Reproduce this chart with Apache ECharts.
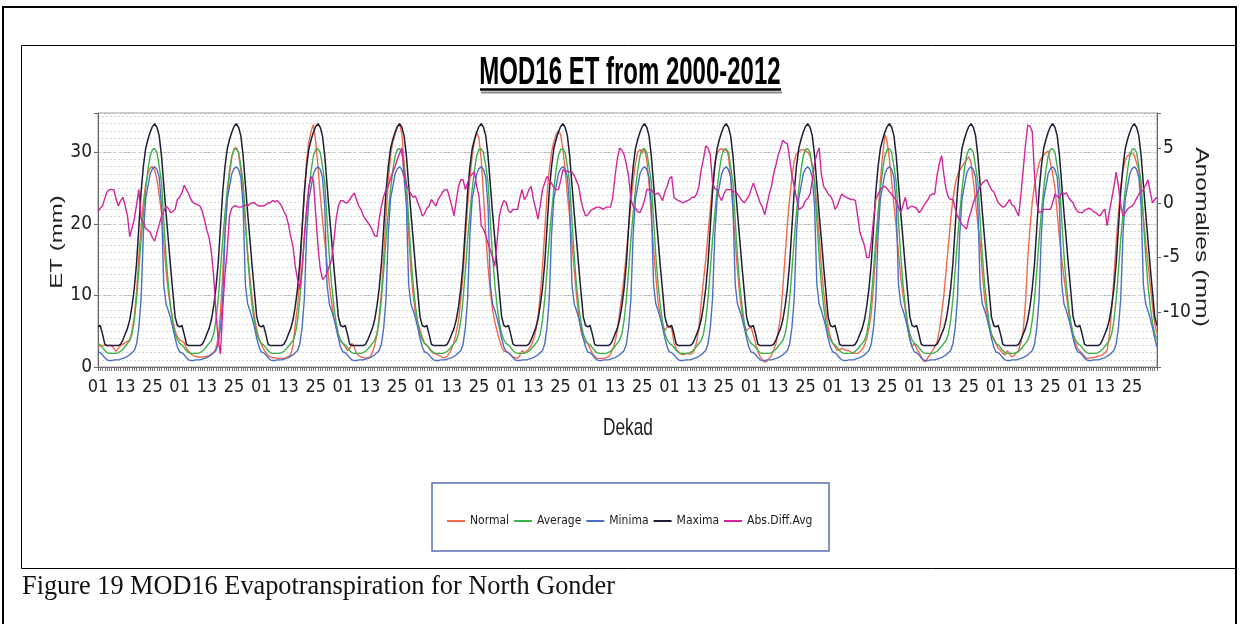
<!DOCTYPE html>
<html><head><meta charset="utf-8">
<script src="https://cdn.jsdelivr.net/npm/echarts@6/dist/echarts.min.js"></script>
<style>html,body{margin:0;padding:0;background:#fff}#c{width:1240px;height:624px}</style>
</head><body><div id="c"></div>
<script>
// ---------- DATA ----------
const years = ['2000','2001','2002','2003','2004','2005','2006','2007','2008','2009','2010','2011','2012'];
const dekads = ['01','02','03','04','05','06','07','08','09','10','11','12','13','14','15','16','17','18',
                '19','20','21','22','23','24','25','26','27','28','29','30','31','32','33','34','35','36'];
// long-term dekadal statistics (repeat every year)
const averageCycle = [3.3,3.1,2.7,2.3,2.0,1.9,1.9,1.9,1.9,2.0,2.2,2.5,2.9,3.3,3.7,4.6,6.5,9.5,13.5,17.8,21.5,24.8,27.5,29.5,30.4,30.5,30.0,28.0,25.8,20.5,15.5,11.5,8.5,6.2,4.6,3.8];
const minimaCycle  = [2.1,2.0,1.7,1.3,1.0,0.9,0.9,1.0,1.0,1.0,1.1,1.2,1.3,1.5,1.7,2.0,2.3,3.2,5.5,9.5,18.5,23.5,25.2,27.0,27.7,28.0,27.6,26.5,22.5,11.5,8.8,7.9,6.8,5.5,4.0,2.8];
const maximaCycle  = [5.6,5.8,4.6,3.2,3.0,3.0,3.0,3.0,3.0,3.0,3.2,3.8,4.6,5.4,6.6,8.5,11.0,14.5,19.5,24.5,28.0,30.5,31.8,32.8,33.6,34.0,33.5,32.3,29.5,25.5,21.5,17.8,14.0,10.5,7.0,5.8];
// yearly dekadal ET ("Normal"), one row per year
const normalByYear = [
 [2.8,3.0,3.0,3.0,3.0,3.0,3.0,2.6,2.2,2.6,3.0,3.2,3.4,3.6,3.8,5.0,7.0,10.5,15.5,19.5,23.0,25.5,27.0,27.8,28.0,27.5,26.2,24.0,21.5,17.5,13.5,10.5,8.3,6.5,5.1,4.2],
 [3.8,3.6,3.4,2.6,2.2,1.8,1.6,1.5,1.4,1.4,1.4,1.4,1.5,1.6,1.8,2.0,2.6,4.0,7.5,13.0,19.0,23.5,27.0,29.3,30.5,30.7,29.8,27.5,24.5,20.0,16.0,12.5,9.5,7.0,5.2,4.0],
 [3.2,2.5,2.0,1.6,1.4,1.3,1.3,1.2,1.2,1.2,1.2,1.3,1.5,1.7,3.0,6.0,8.5,13.0,19.0,24.0,29.0,31.5,33.0,33.9,31.5,28.0,24.0,20.5,17.5,14.5,11.5,9.0,7.0,5.5,4.2,3.6],
 [3.3,2.8,2.3,2.6,3.3,2.8,1.9,1.6,1.4,1.3,1.2,1.3,1.4,2.0,3.0,4.5,7.0,10.5,15.5,21.0,26.0,29.5,31.5,32.5,33.5,34.0,32.5,28.5,24.0,18.5,13.5,10.0,7.5,6.2,5.2,4.2],
 [3.3,3.0,2.6,2.2,1.9,1.8,1.7,1.5,1.3,1.3,1.5,2.0,2.6,3.5,4.8,6.5,9.5,13.0,18.0,22.5,26.5,29.5,31.5,32.8,32.0,29.0,24.0,18.5,14.0,10.5,8.0,6.3,5.0,3.8,2.8,2.2],
 [2.2,2.0,1.7,1.4,1.3,1.2,1.6,2.3,2.0,2.2,2.5,3.0,3.8,5.0,7.0,10.0,14.0,19.0,24.0,27.5,30.0,31.5,32.5,33.0,32.5,30.5,27.5,24.0,21.0,17.5,13.5,10.0,7.0,5.0,4.0,3.4],
 [3.3,2.6,1.9,1.5,1.2,1.2,1.2,1.2,1.3,1.4,1.8,2.5,3.5,5.0,7.5,10.0,12.5,16.0,19.5,23.0,26.0,28.5,30.0,30.4,29.9,30.5,29.0,25.5,21.0,16.5,12.6,9.0,7.0,5.8,5.1,5.6],
 [5.6,5.4,3.3,2.5,2.1,1.8,1.7,1.8,1.9,1.8,1.9,2.4,3.5,5.5,9.0,12.0,15.0,18.5,22.0,25.5,28.5,29.8,30.4,30.5,30.2,30.5,29.5,26.5,22.0,17.5,13.5,10.0,7.5,5.8,5.1,5.4],
 [5.6,4.5,3.3,2.2,1.4,1.0,0.7,0.8,1.2,1.6,2.4,3.3,5.0,7.0,11.0,15.5,20.0,23.5,26.5,28.8,29.8,30.1,30.3,30.4,30.2,30.0,29.5,28.0,26.0,22.5,18.5,14.0,10.5,7.8,5.5,4.2],
 [3.3,2.8,2.3,2.4,2.6,2.5,2.3,2.3,2.1,1.9,1.9,1.9,2.1,2.5,3.0,4.0,5.5,7.5,11.5,16.0,21.0,26.0,29.5,32.5,31.5,29.0,26.0,22.5,19.5,16.0,12.5,10.0,8.0,5.5,3.8,2.8],
 [3.3,2.6,2.0,1.5,0.8,0.8,1.3,1.8,2.3,2.8,3.5,5.0,7.5,10.0,13.5,17.0,20.5,23.5,25.5,26.8,27.5,28.0,28.5,29.0,29.4,28.5,26.0,23.0,20.0,17.5,13.0,9.5,7.5,5.6,4.6,4.0],
 [3.3,2.6,2.3,1.9,1.7,2.3,1.8,1.4,1.6,2.0,2.3,3.5,5.0,9.0,15.0,19.5,23.0,25.5,27.0,28.5,29.2,29.6,29.9,30.2,28.5,27.0,25.0,21.5,18.0,15.0,12.5,10.0,7.8,6.0,4.5,3.4],
 [2.6,2.2,1.9,1.5,1.2,1.2,1.3,1.3,1.4,1.5,1.6,1.7,2.0,2.3,4.5,8.0,12.5,17.3,21.5,25.2,27.5,29.0,29.5,29.8,29.9,29.6,28.5,27.5,24.3,21.0,17.5,14.5,11.5,8.5,6.0,4.7]
];
// anomalies (Abs.Diff.Avg, right axis), one row per year
const anomalyByYear = [
 [-0.8,-0.5,-0.3,0.4,1.0,1.2,1.2,1.2,0.3,-0.3,0.2,0.5,-0.3,-1.2,-3.1,-2.3,-1.5,-0.2,1.2,-1.5,-1.8,-2.3,-2.5,-2.7,-3.2,-3.5,-2.7,-2.0,-1.2,-0.8,-0.3,-0.5,-0.9,-0.8,-0.6,0.3],
 [0.5,0.9,1.6,1.2,0.8,0.3,0.0,-0.1,-0.2,-0.3,-0.8,-1.6,-2.5,-3.2,-4.5,-6.7,-10.0,-12.5,-13.8,-9.7,-6.5,-4.3,-1.2,-0.5,-0.3,-0.3,-0.4,-0.4,-0.3,-0.2,-0.3,-0.1,0.0,0.0,-0.2,-0.3],
 [-0.3,-0.3,-0.2,0.0,0.0,0.2,0.1,0.2,0.0,-0.3,-0.8,-1.2,-2.0,-3.1,-4.0,-5.8,-7.0,-7.9,-6.0,-3.0,-0.5,1.5,2.4,2.0,-1.0,-4.0,-6.0,-7.0,-6.8,-6.4,-5.8,-5.2,-3.5,-1.5,-0.3,0.2],
 [0.2,0.0,0.0,0.3,0.6,0.9,0.3,-0.3,-0.6,-1.2,-1.5,-1.8,-2.1,-2.5,-3.0,-3.1,-1.5,-0.3,0.6,1.2,1.5,2.2,2.8,3.3,4.0,4.5,5.0,2.5,1.6,1.2,0.8,0.5,0.6,0.0,-0.5,-1.2],
 [-1.0,-0.5,-0.3,0.3,0.0,-0.3,0.3,0.6,1.0,1.2,1.2,0.5,-0.3,-1.2,0.2,1.5,2.1,2.1,1.2,1.8,2.4,2.6,2.8,1.5,0.6,-2.1,-2.4,-3.0,-3.7,-4.3,-5.0,-5.8,-3.5,-1.2,-0.3,0.2],
 [0.0,-0.7,-0.9,-0.6,-0.6,-0.6,0.4,1.2,0.3,0.6,1.2,1.5,0.3,-0.5,-1.5,-0.3,1.2,1.8,2.4,2.1,1.8,1.4,1.2,1.2,2.0,3.0,2.9,2.9,2.8,2.8,2.5,2.0,1.5,0.2,-0.6,-1.2],
 [-1.1,-0.8,-0.6,-0.5,-0.4,-0.4,-0.5,-0.6,-0.4,-0.4,-0.4,0.5,2.4,4.0,5.0,4.8,4.4,3.5,2.4,0.3,-0.3,-0.5,-0.8,-0.9,-0.4,0.2,1.2,1.2,1.2,0.9,0.8,0.9,0.6,0.2,1.0,1.5],
 [2.2,2.4,0.5,0.3,0.2,0.1,0.0,0.1,0.2,0.3,0.5,0.5,0.8,1.5,3.0,4.0,5.2,5.0,4.4,1.8,1.3,1.2,0.6,0.2,0.8,1.2,1.2,1.2,1.0,1.0,0.8,0.5,0.2,0.0,0.3,0.6],
 [1.2,1.8,1.2,0.6,0.0,-0.4,-1.1,-0.2,0.8,1.5,2.7,3.5,4.4,5.0,5.7,5.5,5.4,4.0,2.5,1.5,0.5,-0.6,-0.5,-0.3,0.2,0.4,0.8,2.0,3.6,4.5,5.0,2.6,1.5,1.2,0.8,0.6],
 [0.2,-0.6,-0.3,0.3,0.8,0.6,0.5,0.4,0.3,0.3,0.2,-1.2,-2.7,-3.3,-3.9,-5.0,-5.0,-3.6,-1.5,0.3,0.8,1.2,1.4,1.5,1.3,1.0,0.8,0.5,0.2,-0.4,-0.9,-0.2,0.5,-0.6,-0.4,-0.3],
 [-0.4,-0.5,-0.9,-0.7,-0.3,0.0,0.3,0.7,0.8,0.8,2.5,3.6,4.3,2.6,1.2,0.5,0.3,0.3,-0.5,-1.2,-1.6,-2.0,-2.2,-2.4,-1.4,-0.8,0.0,0.5,1.0,1.5,1.8,2.0,2.1,1.6,1.2,1.0],
 [0.5,0.0,-0.2,-0.4,-0.3,0.0,0.3,-0.2,-0.3,-0.8,-1.2,0.8,3.0,5.3,7.1,7.0,6.5,2.4,0.0,-0.9,-0.8,-0.6,-0.6,-0.6,-0.6,0.0,0.8,0.6,0.4,1.0,0.8,0.9,0.5,0.2,0.0,-0.5],
 [-0.8,-0.9,-0.9,-0.7,-0.6,-0.5,-0.6,-0.8,-0.9,-1.1,-1.2,-0.8,-0.6,-2.1,-0.8,0.3,1.5,2.8,1.5,-0.2,-1.2,-0.9,-0.6,-0.4,-0.3,0.0,0.4,0.8,1.0,1.2,1.6,2.1,1.0,0.0,0.3,0.5]
];
const leftTicks = [0, 10, 20, 30];
const rightTicks = [5, 0, -5, -10];
const seriesNames = ['Normal', 'Average', 'Minima', 'Maxima', 'Abs.Diff.Avg'];

// ---------- build series ----------
const categories = [], normal = [], average = [], minima = [], maxima = [], anomaly = [];
years.forEach((y, yi) => {
  dekads.forEach((d, di) => {
    categories.push(y + '-' + d);
    normal.push(normalByYear[yi][di]);
    average.push(averageCycle[di]);
    minima.push(minimaCycle[di]);
    maxima.push(maximaCycle[di]);
    anomaly.push(anomalyByYear[yi][di]);
  });
});

const NARROW = "'DejaVu Sans Condensed','Liberation Sans Narrow',sans-serif";
const colors = ['#f26a4e', '#3cb14a', '#4b6ec6', '#1e1e36', '#d3259b'];

const chart = echarts.init(document.getElementById('c'), null, {renderer: 'canvas'});
const lineS = (name, data, idx, yAxisIndex, w) => ({
  name, type: 'line', data, yAxisIndex: yAxisIndex, showSymbol: false, symbol: 'none',
  lineStyle: {color: colors[idx], width: w}, itemStyle: {color: colors[idx]},
  emphasis: {disabled: true}, animation: false
});

chart.setOption({
  animation: false,
  color: colors,
  grid: {left: 98, right: 83, top: 113, bottom: 257, show: true, borderColor: '#9a9a9a', borderWidth: 1, backgroundColor: '#fff'},
  legend: {
    left: 442, top: 510, icon: 'rect', itemWidth: 18, itemHeight: 2, itemGap: 5,
    data: seriesNames,
    textStyle: {fontFamily: NARROW, fontSize: 12, color: '#1a1a1a'}
  },
  xAxis: {
    type: 'category', data: categories, boundaryGap: false,
    axisLine: {show: true, lineStyle: {color: '#666', width: 1}},
    axisTick: {show: true, interval: 0, length: 4, lineStyle: {color: '#777'}},
    axisLabel: {interval: 11, formatter: v => v.slice(-2), fontFamily: NARROW, fontSize: 18, color: '#222', margin: 11},
    splitLine: {show: false}
  },
  yAxis: [
    {
      type: 'value', min: 0, max: 35.5, interval: 10, position: 'left',
      axisLine: {show: true, lineStyle: {color: '#666'}},
      axisTick: {show: true, length: 4, lineStyle: {color: '#666'}},
      axisLabel: {formatter: v => leftTicks.includes(v) ? String(v) : '', fontFamily: NARROW, fontSize: 19, color: '#222', margin: 6},
      splitLine: {show: true, lineStyle: {color: '#b0b0b0', type: [3, 2], width: 1}}
    },
    {
      type: 'value', min: -15, max: 8.2, interval: 5, position: 'right',
      axisLine: {show: true, lineStyle: {color: '#666'}},
      axisTick: {show: true, length: 4, lineStyle: {color: '#666'}},
      axisLabel: {formatter: v => rightTicks.includes(v) ? String(v) : '', fontFamily: NARROW, fontSize: 19, color: '#222', margin: 6},
      splitLine: {show: false}
    },
    {
      type: 'value', min: 0, max: 35.5, interval: 1, position: 'left',
      axisLine: {show: false}, axisTick: {show: false}, axisLabel: {show: false},
      splitLine: {show: true, lineStyle: {color: '#d6d6d6', type: [2, 2], width: 1}}
    }
  ],
  series: [
    lineS('Normal', normal, 0, 0, 1.4),
    lineS('Average', average, 1, 0, 1.4),
    lineS('Minima', minima, 2, 0, 1.4),
    lineS('Maxima', maxima, 3, 0, 1.5),
    lineS('Abs.Diff.Avg', anomaly, 4, 1, 1.4)
  ],
  graphic: [
    // outer page frame
    {type: 'polyline', silent: true, shape: {points: [[3, 624], [3, 7], [1236, 7], [1236, 624]]}, style: {stroke: '#000', lineWidth: 2, fill: null}},
    // chart box
    {type: 'rect', silent: true, shape: {x: 21.5, y: 45.5, width: 1214.5, height: 523}, style: {stroke: '#000', lineWidth: 1, fill: null}},
    // title
    {type: 'text', silent: true, x: 630, y: 73, scaleX: 0.615,
     style: {text: 'MOD16 ET from 2000-2012', font: "bold 39px 'Liberation Sans', Arial, sans-serif", fill: '#000', align: 'center', verticalAlign: 'middle'}},
    {type: 'line', silent: true, shape: {x1: 480, y1: 89.5, x2: 781, y2: 89.5}, style: {stroke: '#000', lineWidth: 2.5}},
    {type: 'line', silent: true, shape: {x1: 481, y1: 92.5, x2: 782, y2: 92.5}, style: {stroke: '#8a8a8a', lineWidth: 2}},
    // axis titles
    {type: 'text', silent: true, x: 57.5, y: 242, rotation: Math.PI / 2, scaleY: 0.7,
     style: {text: 'ET (mm)', font: "24px 'Liberation Sans', Arial, sans-serif", fill: '#222', align: 'center', verticalAlign: 'middle'}},
    {type: 'text', silent: true, x: 1201, y: 237, rotation: -Math.PI / 2, scaleY: 0.75,
     style: {text: 'Anomalies (mm)', font: "24.7px 'Liberation Sans', Arial, sans-serif", fill: '#222', align: 'center', verticalAlign: 'middle'}},
    {type: 'text', silent: true, x: 628, y: 428, scaleX: 0.72,
     style: {text: 'Dekad', font: "24px 'Liberation Sans', Arial, sans-serif", fill: '#222', align: 'center', verticalAlign: 'middle'}},
    // legend frame
    {type: 'rect', silent: true, shape: {x: 432, y: 483, width: 397, height: 68}, style: {stroke: '#5a6fb8', lineWidth: 1.5, fill: null}},
    // caption
    {type: 'text', silent: true, x: 22, y: 587,
     style: {text: 'Figure 19 MOD16 Evapotranspiration for North Gonder', font: "26.3px 'Liberation Serif', 'Times New Roman', serif", fill: '#111', align: 'left', verticalAlign: 'middle'}}
  ]
});
</script></body></html>
